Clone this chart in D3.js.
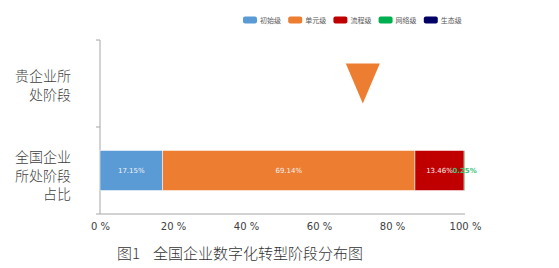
<!DOCTYPE html>
<html><head><meta charset="utf-8">
<script src="https://cdn.jsdelivr.net/npm/d3@7"></script>
<style>body{margin:0;background:#fff}svg{display:block}</style>
</head><body>
<svg id="c" width="559" height="268"></svg>
<script>
const categories = ["贵企业所处阶段", "全国企业所处阶段占比"];
const categoryLines = [["贵企业所", "处阶段"], ["全国企业", "所处阶段", "占比"]];
const seriesNames = ["初始级", "单元级", "流程级", "网络级", "生态级"];
const seriesColors = ["#5B9BD5", "#ED7D31", "#C00000", "#00B050", "#000066"];
const nationalValues = [17.15, 69.14, 13.46, 0.25, 0];
const markerValue = 72;
const xTicks = [0, 20, 40, 60, 80, 100];
const titlePrefix = "图1";
const titleText = "全国企业数字化转型阶段分布图";

const svg = d3.select("#c");
const x = d3.scaleLinear().domain([0, 100]).range([100, 465]);
const y = d3.scaleBand().domain(categories).range([40, 214]).paddingInner(0).paddingOuter(0);
const barPad = 0.27;

// axes
const gx = svg.append("g").attr("transform", "translate(0,214)")
  .call(d3.axisBottom(x).tickValues(xTicks).tickFormat(d => d + " %").tickSize(0).tickPadding(9));
gx.select(".domain").attr("stroke", "#a6a6a6").attr("d", `M${x(0)},0H${x(100)}`);
gx.selectAll("text").attr("font-family", "DejaVu Sans").attr("font-size", 10).attr("fill", "#404040");

const gy = svg.append("g").attr("transform", `translate(${x(0)},0)`)
  .call(d3.axisLeft(y).tickSize(0).tickFormat(""));
gy.select(".domain").attr("stroke", "#a6a6a6").attr("d", "M0,40V214");
svg.append("g").selectAll("line").data([40, y(categories[1]), 214]).join("line")
  .attr("x1", x(0) - 4).attr("x2", x(0)).attr("y1", d => d).attr("y2", d => d)
  .attr("stroke", "#a6a6a6");

// category labels
const lab = svg.append("g");
categories.forEach((c, i) => {
  const lines = categoryLines[i];
  const cy = y(c) + y.bandwidth() / 2 + (i === 1 ? 4 : 1);
  const lh = 18.5;
  lines.forEach((t, j) => {
    lab.append("text").attr("x", 71).attr("y", cy + (j - (lines.length - 1) / 2) * lh)
      .attr("text-anchor", "end").attr("dominant-baseline", "central")
      .attr("font-family", "Noto Sans CJK SC").attr("font-weight", 300)
      .attr("font-size", 14).attr("fill", "#404040").text(t);
  });
});

// stacked bar
const bandY = y(categories[1]) + y.bandwidth() * barPad;
const bandH = y.bandwidth() * (1 - 2 * barPad);
let cum = 0;
const segs = nationalValues.map((v, i) => { const s = {v, i, x0: cum, x1: cum + v}; cum += v; return s; });
svg.append("g").selectAll("rect").data(segs.filter(s => s.v > 0)).join("rect")
  .attr("x", d => x(d.x0)).attr("width", d => x(d.x1) - x(d.x0))
  .attr("y", bandY).attr("height", bandH)
  .attr("fill", d => seriesColors[d.i]).attr("stroke", "#fff").attr("stroke-width", 0.5);
svg.append("g").selectAll("text").data(segs.filter(s => s.v > 0)).join("text")
  .attr("x", d => (x(d.x0) + x(d.x1)) / 2).attr("y", bandY + bandH / 2)
  .attr("text-anchor", "middle").attr("dominant-baseline", "central")
  .attr("font-family", "DejaVu Sans").attr("font-size", 7)
  .attr("font-weight", d => d.i === 3 ? "bold" : "normal")
  .attr("fill", d => d.i === 3 ? "#3cc477" : "#f2f2f2")
  .text(d => d.v.toFixed(2) + "%");

// marker triangle
const mx = x(markerValue), my = y(categories[0]) + y.bandwidth() / 2;
svg.append("path").attr("d", `M${mx - 17},${my - 20}L${mx + 17},${my - 20}L${mx},${my + 20}Z`)
  .attr("fill", "#ED7D31");

// legend
const lg = svg.append("g");
seriesNames.forEach((n, i) => {
  const lx = 243 + i * 45.2;
  lg.append("rect").attr("x", lx).attr("y", 16.5).attr("width", 14).attr("height", 7).attr("rx", 2)
    .attr("fill", seriesColors[i]);
  lg.append("text").attr("x", lx + 17).attr("y", 20).attr("dominant-baseline", "central")
    .attr("font-family", "Noto Sans CJK SC").attr("font-size", 7).attr("fill", "#595959").text(n);
});

// title
const tg = svg.append("g").attr("font-family", "Noto Sans CJK SC").attr("font-size", 15)
  .attr("font-weight", 300).attr("fill", "#333");
tg.append("text").attr("x", 117).attr("y", 252).attr("dominant-baseline", "central").text(titlePrefix);
tg.append("text").attr("x", 153).attr("y", 252).attr("dominant-baseline", "central").text(titleText);
</script>
</body></html>
